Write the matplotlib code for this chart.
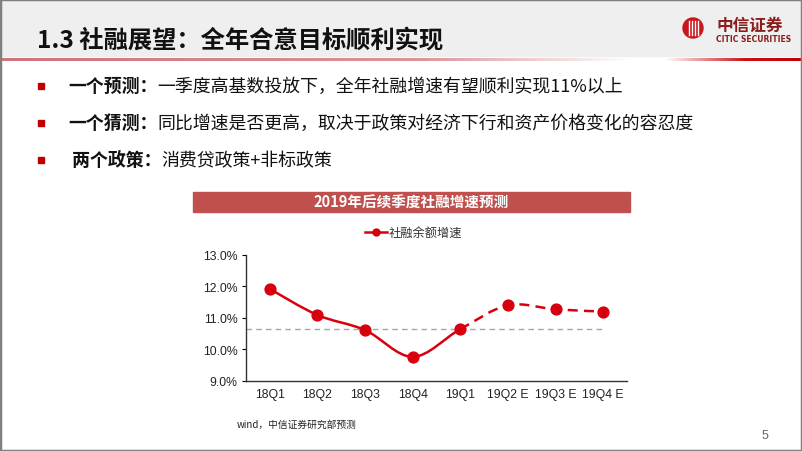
import numpy as np
import matplotlib
matplotlib.use('Agg')
import matplotlib.pyplot as plt
from matplotlib.patches import Rectangle, Ellipse, PathPatch
from matplotlib.path import Path

plt.rcParams['font.family'] = ['Noto Sans CJK SC', 'DejaVu Sans']

# data
quarters = ['18Q1', '18Q2', '18Q3', '18Q4', '19Q1', '19Q2 E', '19Q3 E', '19Q4 E']
growth = [11.92, 11.09, 10.61, 9.76, 10.64, 11.40, 11.27, 11.20]
n_actual = 5  # 18Q1..19Q1 are actual, rest forecast
ref_level = 10.63
yticks = [9.0, 10.0, 11.0, 12.0, 13.0]

page_title = '1.3 社融展望：全年合意目标顺利实现'
bullets = [('一个预测：', '一季度高基数投放下，全年社融增速有望顺利实现11%以上'),
           ('一个猜测：', '同比增速是否更高，取决于政策对经济下行和资产价格变化的容忍度'),
           (' 两个政策：', '消费贷政策+非标政策')]
chart_title = '2019年后续季度社融增速预测'
series_name = '社融余额增速'
source = 'wind，中信证券研究部预测'

W, H = 802, 452
RED = '#d9000d'


def fx(x):
    return x / W


def fy(y):
    return 1 - y / H


fig = plt.figure(figsize=(W / 100, H / 100), dpi=100)
fig.patch.set_facecolor('white')

# header band
fig.patches.append(Rectangle((0, fy(57)), 1, 57 / H, transform=fig.transFigure,
                             color='#efefef', zorder=0))
# gradient rule under header
gax = fig.add_axes([0, fy(62), 1, 3 / H])
gx = np.arange(W)
stops = [0, 420, 630, 665, 745, W]
cols = np.array([[0.82, 0.45, 0.47], [0.86, 0.58, 0.60], [1, 1, 1],
                 [1, 1, 1], [0.80, 0.06, 0.08], [0.76, 0.0, 0.02]])
grad = np.stack([np.interp(gx, stops, cols[:, i]) for i in range(3)], axis=-1)
gax.imshow(grad[None, :, :], aspect='auto', extent=[0, W, 0, 1])
gax.axis('off')

# frame
fig.patches.append(Rectangle((0, 0), 1, 1, transform=fig.transFigure, fill=False,
                             edgecolor='#808080', linewidth=2.5, zorder=10))

fig.text(fx(37), fy(40), page_title, fontsize=17.5, fontweight='bold',
         va='center', ha='left', color='#111111')

# logo
fig.patches.append(Ellipse((fx(693), fy(29)), 20 / W, 20 / H, transform=fig.transFigure,
                           color='#c8161d', zorder=3))
for dx in (-4.5, -1.5, 1.5, 4.5):
    fig.lines.append(plt.Line2D([fx(693 + dx)] * 2, [fy(22), fy(36)],
                                transform=fig.transFigure, color='white', lw=1.0, zorder=4))
fig.text(fx(716), fy(26), '中信证券', fontsize=12, fontweight='bold',
         color='#8a1c1c', va='center', ha='left')
fig.text(fx(716), fy(40), 'CITIC SECURITIES', fontsize=5.5, fontweight='bold',
         color='#8a1c1c', va='center', ha='left', family='Liberation Sans Narrow')

# bullets
renderer = fig.canvas.get_renderer()
for (bold_part, rest), y in zip(bullets, [87, 124, 161]):
    fig.patches.append(Rectangle((fx(38), fy(y + 3)), 6 / W, 6 / H,
                                 transform=fig.transFigure, color='#c00000'))
    t = fig.text(fx(68), fy(y), bold_part, fontsize=12.9, fontweight='bold',
                 va='center', ha='left', color='#111111')
    bb = t.get_window_extent(renderer)
    fig.text(bb.x1 / W, fy(y), rest, fontsize=12.9, va='center', ha='left', color='#111111')

# chart title band
fig.patches.append(Rectangle((fx(193), fy(213)), 437 / W, 20 / H,
                             transform=fig.transFigure, color='#c0504d'))
fig.text(fx(411), fy(203), chart_title, fontsize=10.5, fontweight='bold',
         color='white', ha='center', va='center')

# chart
ax = fig.add_axes([fx(246), fy(381.7), 381 / W, 125.7 / H])
x = np.arange(len(quarters))
y = np.array(growth, dtype=float)

# smooth curve through points (bezier, catmull-rom style)
pts = np.column_stack([x, y])
ext = np.vstack([pts[0], pts, pts[-1]])
segs = []
for i in range(len(pts) - 1):
    p0, p1, p2, p3 = ext[i], ext[i + 1], ext[i + 2], ext[i + 3]
    c1 = p1 + (p2 - p0) / 6
    c2 = p2 - (p3 - p1) / 6
    segs.append((p1, c1, c2, p2))


def make_path(seglist):
    verts = [seglist[0][0]]
    codes = [Path.MOVETO]
    for s in seglist:
        verts += [s[1], s[2], s[3]]
        codes += [Path.CURVE4] * 3
    return Path(verts, codes)


ax.add_patch(PathPatch(make_path(segs[:n_actual - 1]), fill=False,
                       edgecolor=RED, lw=1.8, zorder=3))
ax.add_patch(PathPatch(make_path(segs[n_actual - 1:]), fill=False,
                       edgecolor=RED, lw=1.8, linestyle=(0, (4, 2.5)), zorder=3))
ax.plot(x, y, linestyle='none', marker='o', ms=7.8, color=RED, zorder=4)

ax.axhline(ref_level, xmin=0, xmax=0.94, color='#a6a6a6', lw=1,
           linestyle=(0, (4, 3)), zorder=2)

ax.set_xlim(-0.5, len(quarters) - 0.5)
ax.set_ylim(9, 13)
ax.set_yticks(yticks)
ax.set_yticklabels([f'{v:.1f}%' for v in yticks], family='Liberation Sans',
                   fontsize=8.8, color='#222222')
ax.set_xticks(x)
ax.set_xticklabels(quarters, family='Liberation Sans', fontsize=8.8, color='#222222')
ax.tick_params(axis='x', length=0, pad=5)
ax.tick_params(axis='y', length=3, width=0.8, pad=3)
for s in ('top', 'right'):
    ax.spines[s].set_visible(False)
for s in ('left', 'bottom'):
    ax.spines[s].set_color('#333333')
    ax.spines[s].set_linewidth(1)

# legend
fig.lines.append(plt.Line2D([fx(365), fx(387)], [fy(233)] * 2, transform=fig.transFigure,
                            color=RED, lw=1.8))
fig.lines.append(plt.Line2D([fx(376)], [fy(233)], transform=fig.transFigure,
                            color=RED, marker='o', ms=5))
fig.text(fx(389), fy(233), series_name, fontsize=8.8, color='#333333',
         va='center', ha='left')

fig.text(fx(237), fy(425), source, fontsize=7, color='#222222', va='center', ha='left')
fig.text(fx(765), fy(436), '5', fontsize=9, color='#666666', va='center', ha='center',
         family='Liberation Sans')

fig.savefig('out.png', dpi=100)
